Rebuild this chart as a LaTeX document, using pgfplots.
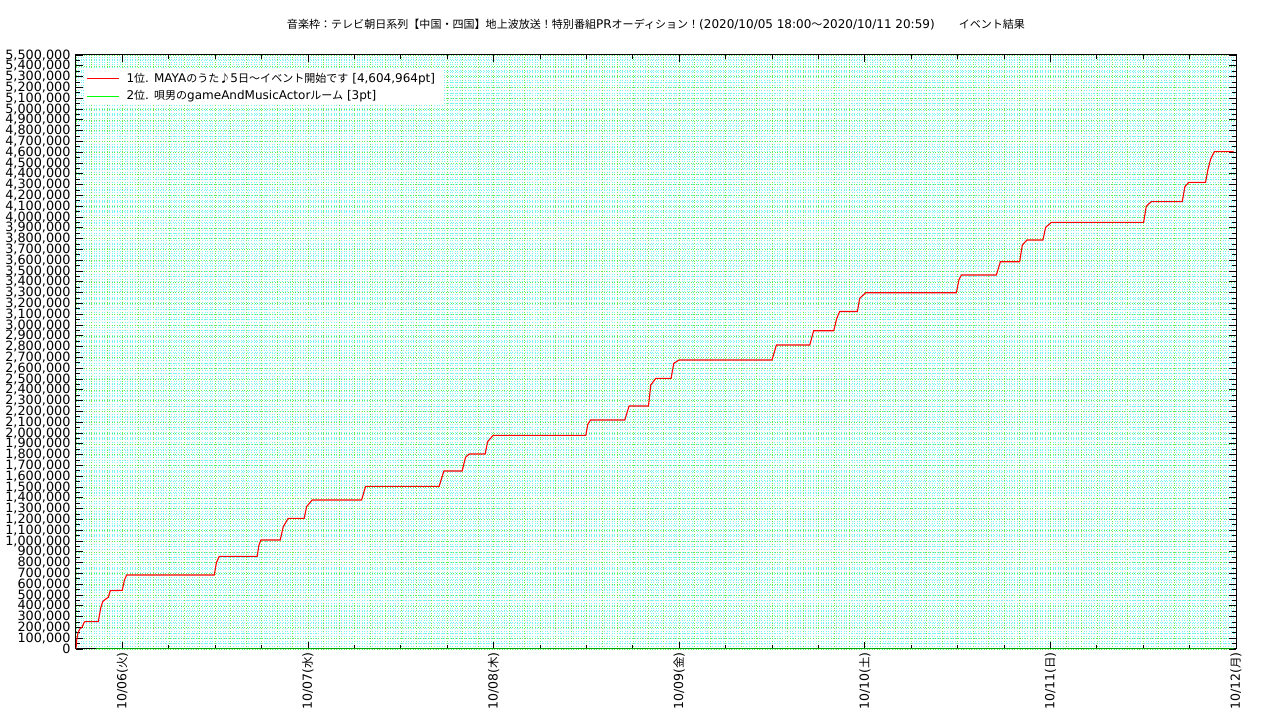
\documentclass[border=0pt]{standalone}
\usepackage{fontspec}
\setmainfont{DejaVu Sans}
\newfontfamily\jp[Scale=0.92]{Noto Sans CJK JP}
\usepackage{pgfplots}
\usepackage{pgfplotstable}
\pgfplotsset{compat=1.18}
\definecolor{gridgreen}{RGB}{90,238,90}
\definecolor{gridcyan}{RGB}{120,245,245}
\definecolor{linered}{RGB}{255,0,0}
\definecolor{linegreen}{RGB}{0,255,0}

\pgfplotstableread{
h v
0 0
0.09 83000
0.26 150000
0.52 190000
0.78 200000
1.03 243000
1.16 253000
2.88 253000
3.19 377000
3.45 438000
3.79 460000
4.18 479000
4.43 540000
5.98 543000
6.27 640000
6.55 685000
17.88 685000
18.16 800000
18.52 858000
23.43 858000
23.65 960000
23.91 1009000
26.41 1009000
26.80 1132000
27.44 1210000
29.51 1210000
29.82 1318000
30.54 1380000
36.93 1380000
37.45 1506000
46.96 1506000
47.57 1648000
49.93 1648000
50.37 1775000
50.84 1806000
52.91 1806000
53.22 1919000
53.94 1978000
65.92 1978000
66.18 2080000
66.53 2120000
70.96 2120000
71.52 2250000
74.03 2250000
74.32 2444000
74.97 2506000
76.95 2506000
77.30 2645000
77.98 2676000
90.00 2676000
90.57 2815000
94.88 2815000
95.39 2947000
97.98 2947000
98.37 3060000
98.75 3125000
101.04 3125000
101.34 3247000
102.12 3299000
113.84 3299000
114.18 3420000
114.49 3463000
119.01 3463000
119.53 3586000
122.02 3586000
122.37 3741000
122.97 3787000
125.03 3787000
125.38 3904000
126.12 3950000
138.05 3950000
138.40 4100000
139.04 4142000
143.05 4142000
143.39 4281000
143.90 4321000
146.06 4321000
146.36 4435000
146.71 4534000
147.10 4590000
147.23 4604964
149.68 4604964
}\first

\pgfplotstableread{
h v
2.6 0
149.68 3
}\second

\begin{document}
\begin{tikzpicture}[x=1pt,y=1pt]
\useasboundingbox (0,0) rectangle (1280,720);
% background grid
\begin{axis}[at={(76pt,71pt)}, anchor=south west, scale only axis,
  width=1160pt, height=594pt,
  xmin=0, xmax=150, ymin=0, ymax=5500000,
  xtick distance=2, minor x tick num=5,
  ytick distance=100000, minor y tick num=1,
  xticklabels={}, yticklabels={},
  grid=both,
  major grid style={gridgreen, line width=0.55pt, dash pattern=on 0.55pt off 2pt},
  minor grid style={gridcyan, line width=0.55pt, dash pattern=on 0.55pt off 2pt},
  axis line style={draw=none}, tick style={draw=none},
  scaled y ticks=false]
\end{axis}
% main axis
\begin{axis}[at={(76pt,71pt)}, anchor=south west, scale only axis,
  width=1160pt, height=594pt,
  xmin=0, xmax=150, ymin=0, ymax=5500000,
  xtick={6,30,54,78,102,126,150},
  xticklabels={10/06({\jp 火}),10/07({\jp 水}),10/08({\jp 木}),10/09({\jp 金}),10/10({\jp 土}),10/11({\jp 日}),10/12({\jp 月})},
  minor x tick num=3,
  ytick distance=100000, minor y tick num=1,
  tick align=inside,
  major tick length=7pt, minor tick length=4pt,
  tick style={black, line width=0.8pt},
  axis line style={black, line width=1pt},
  scaled y ticks=false,
  /pgf/number format/.cd, 1000 sep={,}, fixed, assume math mode=true,
  /pgfplots/.cd,
  yticklabel style={font=\fontsize{12.8}{12.8}\selectfont, xshift=-2pt},
  xticklabel style={font=\fontsize{12.5}{12.5}\selectfont, rotate=90, anchor=east},
  title={\fontsize{12}{14}\selectfont{\jp 音楽枠：テレビ朝日系列【中国・四国】地上波放送！特別番組}PR{\jp オーディション！}(2020/10/05 18:00{\jp ～}2020/10/11 20:59)\hspace{24pt}{\jp イベント結果}},
  title style={at={(0.5,1)}, anchor=south, yshift=15pt},
  legend style={draw=none, fill=white, at={(0.007,0.976)}, anchor=north west,
    font=\fontsize{12}{14}\selectfont, row sep=2.5pt, inner sep=2pt,
    nodes={inner xsep=7pt}},
  legend cell align=left]
\addplot[linered, line width=1.1pt, forget plot] table[x=h, y=v] {\first};
\addplot[linegreen, line width=1.1pt, forget plot] table[x=h, y=v] {\second};
\addlegendimage{legend image code/.code={\draw[draw=linered, line width=1.2pt] (0pt,0pt) -- (32pt,0pt);}}
\addlegendentry{1{\jp 位}. MAYA{\jp のうた♪}5{\jp 日〜イベント開始です} [4,604,964pt]}
\addlegendimage{legend image code/.code={\draw[draw=linegreen, line width=1.2pt] (0pt,0pt) -- (32pt,0pt);}}
\addlegendentry{2{\jp 位}. {\jp 唄男の}gameAndMusicActor{\jp ルーム} [3pt]}
\end{axis}
\end{tikzpicture}
\end{document}
